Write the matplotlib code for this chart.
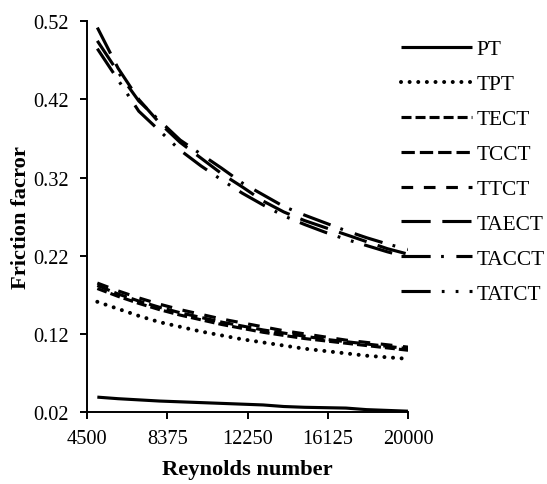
import matplotlib
matplotlib.use("Agg")
import matplotlib.pyplot as plt

plt.rcParams["font.family"] = ["Liberation Serif", "DejaVu Serif"]
plt.rcParams["lines.scale_dashes"] = False

# Reynolds number
reynolds = [5000, 6000, 7000, 8000, 9000, 10000, 11000, 12000,
            13000, 14000, 15000, 16000, 17000, 18000, 19000, 20000]

labels = ["PT", "TPT", "TECT", "TCCT", "TTCT", "TAECT", "TACCT", "TATCT"]

pt = [0.039, 0.037, 0.0355, 0.034, 0.033, 0.032, 0.031, 0.030,
      0.029, 0.027, 0.026, 0.0255, 0.025, 0.023, 0.022, 0.021]
tpt = [0.161, 0.152, 0.143, 0.135, 0.129, 0.123, 0.118, 0.113,
       0.109, 0.105, 0.101, 0.098, 0.095, 0.092, 0.090, 0.088]
tect = [0.178, 0.168, 0.159, 0.151, 0.144, 0.138, 0.132, 0.127,
        0.122, 0.118, 0.114, 0.111, 0.108, 0.105, 0.102, 0.099]
tcct = [0.182, 0.171, 0.162, 0.154, 0.147, 0.141, 0.135, 0.130,
        0.125, 0.121, 0.117, 0.113, 0.110, 0.107, 0.104, 0.101]
ttct = [0.185, 0.175, 0.166, 0.158, 0.151, 0.145, 0.139, 0.134,
        0.129, 0.124, 0.120, 0.116, 0.112, 0.109, 0.106, 0.103]
taect = [0.512, 0.460, 0.420, 0.390, 0.365, 0.345, 0.325, 0.308,
         0.290, 0.276, 0.265, 0.256, 0.247, 0.238, 0.229, 0.222]
tacct = [0.495, 0.455, 0.418, 0.393, 0.368, 0.350, 0.332, 0.313,
         0.298, 0.283, 0.272, 0.262, 0.252, 0.243, 0.235, 0.228]
tatct = [0.485, 0.445, 0.405, 0.380, 0.355, 0.335, 0.317, 0.300,
         0.285, 0.271, 0.260, 0.250, 0.241, 0.233, 0.225, 0.218]

series = [pt, tpt, tect, tcct, ttct, taect, tacct, tatct]

x_ticks = [4500, 8375, 12250, 16125, 20000]
y_ticks = [0.02, 0.12, 0.22, 0.32, 0.42, 0.52]

# dash patterns in points (Excel-like styles); TPT gets round dots
styles = [
    "-",
    (0, (0.01, 6.2)),
    (0, (7.2, 2.9)),
    (0, (9.6, 3.6)),
    (0, (8.4, 7.7)),
    (0, (21.0, 8.4)),
    (0, (21.0, 7.5, 2.0, 9.0)),
    (0, (21.0, 8.0, 2.0, 8.0, 2.0, 8.0)),
]
caps = ["butt", "round", "butt", "butt", "butt", "butt", "butt", "butt"]
widths = [2.25, 2.9, 2.25, 2.25, 2.25, 2.25, 2.25, 2.25]

fig = plt.figure(figsize=(5.47, 4.85), dpi=100)
ax = fig.add_axes([0.159, 0.1485, 0.587, 0.8055])

for y, lab, ls, cap, w in zip(series, labels, styles, caps, widths):
    ax.plot(reynolds, y, color="black", lw=w, linestyle=ls, label=lab,
            dash_capstyle=cap, solid_capstyle="butt")

ax.set_xlim(4500, 20000)
ax.set_ylim(0.02, 0.52)
ax.set_xticks(x_ticks)
ax.set_yticks(y_ticks)
ax.set_xticklabels([str(v) for v in x_ticks])
ax.set_yticklabels([f"{v:.2f}" for v in y_ticks])
ax.spines["top"].set_visible(False)
ax.spines["right"].set_visible(False)
for s in ("left", "bottom"):
    ax.spines[s].set_linewidth(1.4)
ax.tick_params(direction="out", length=5, width=1.4, labelsize=14.7)
ax.tick_params(axis="x", pad=7)
ax.tick_params(axis="y", pad=8)

ax.set_xlabel("Reynolds number", fontsize=16.2, fontweight="bold", labelpad=8)
ax.set_ylabel("Friction facror", fontsize=16.2, fontweight="bold", labelpad=2)

fig.legend(loc="upper left", bbox_to_anchor=(0.7325, 0.917), frameon=False,
           fontsize=15.4, handlelength=3.32, handletextpad=0.23, labelspacing=0.7,
           borderpad=0, borderaxespad=0)

fig.savefig("out.png", dpi=100)
